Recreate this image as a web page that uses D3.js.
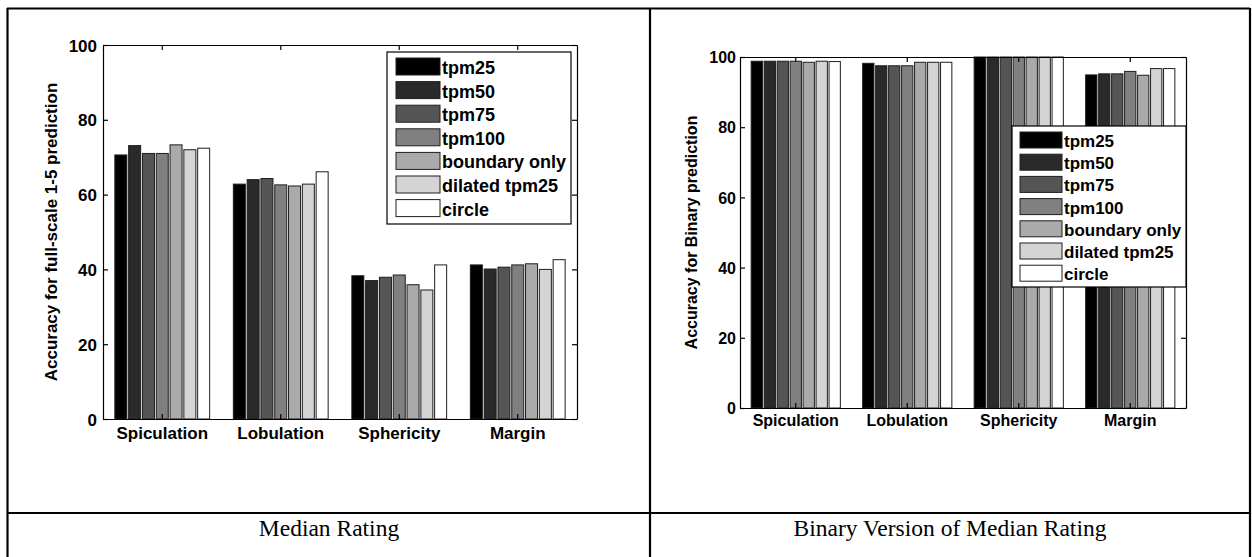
<!DOCTYPE html>
<html>
<head>
<meta charset="utf-8">
<script src="https://d3js.org/d3.v7.min.js"></script>
<style>
  body { margin: 0; background: #fff; }
  svg { display: block; }
</style>
</head>
<body>
<div id="chart"></div>
<script>
const categories = ["Spiculation", "Lobulation", "Sphericity", "Margin"];
const methods = ["tpm25", "tpm50", "tpm75", "tpm100", "boundary only", "dilated tpm25", "circle"];
const grays = ["#000000", "#2a2a2a", "#555555", "#808080", "#aaaaaa", "#d4d4d4", "#ffffff"];
const yTicks = [0, 20, 40, 60, 80, 100];

// accuracy per category, one value per method (same order as methods)
const medianValues = [
  [70.6, 73.1, 71.0, 71.0, 73.3, 72.0, 72.4],
  [62.8, 64.0, 64.3, 62.6, 62.3, 62.8, 66.1],
  [38.3, 37.0, 37.9, 38.5, 35.9, 34.5, 41.2],
  [41.2, 40.1, 40.6, 41.2, 41.5, 40.0, 42.6]
];
const binaryValues = [
  [98.8, 98.8, 98.8, 98.8, 98.5, 98.8, 98.7],
  [98.2, 97.5, 97.5, 97.5, 98.5, 98.5, 98.5],
  [100, 100, 100, 100, 100, 100, 100],
  [94.9, 95.2, 95.2, 95.9, 94.8, 96.7, 96.7]
];
const yTitles = ["Accuracy for full-scale 1-5 prediction", "Accuracy for Binary prediction"];
const captions = ["Median Rating", "Binary Version of Median Rating"];

const W = 1252, H = 557;
const svg = d3.select("#chart").append("svg")
  .attr("width", W)
  .attr("height", H);

const charts = [
  {values: medianValues, title: yTitles[0], caption: captions[0], capX: 329,
   x0: 103, x1: 577, y0: 45, y1: 419, font: 17, tickPad: 6, labelPad: 8, titleX: 57,
   legend: {x: 387, y: 52, w: 184, h: 172, sx: 9, sw: 44, sh: 17, step: 23.6, font: 18}},
  {values: binaryValues, title: yTitles[1], caption: captions[1], capX: 950,
   x0: 740, x1: 1186, y0: 57, y1: 408, font: 16, tickPad: 4, labelPad: 7, titleX: 697,
   legend: {x: 1012, y: 126, w: 174, h: 161, sx: 8, sw: 42, sh: 16, step: 22.2, font: 17}}
];

charts.forEach(c => {
  const g = svg.append("g");

  const x = d3.scaleBand().domain(categories).range([c.x0, c.x1]);
  const inner = d3.scaleBand().domain(methods)
    .range([0, x.bandwidth() * 0.8]).paddingInner(0.13);
  const y = d3.scaleLinear().domain([0, 100]).range([c.y1, c.y0]);

  // bars
  categories.forEach((cat, ci) => {
    g.append("g")
      .selectAll("rect")
      .data(c.values[ci])
      .enter().append("rect")
        .attr("x", (d, i) => x(cat) + x.bandwidth() * 0.1 + inner(methods[i]))
        .attr("y", d => y(d))
        .attr("width", inner.bandwidth())
        .attr("height", d => y(0) - y(d))
        .attr("fill", (d, i) => grays[i])
        .attr("stroke", "#1e1e1e")
        .attr("stroke-width", 1);
  });

  // axes (box with inward ticks, like the matlab figure)
  const left = g.append("g")
      .attr("transform", "translate(" + c.x0 + ",0)")
      .call(d3.axisLeft(y).tickValues(yTicks).tickSizeInner(-5).tickSizeOuter(0).tickPadding(c.tickPad));
  left.selectAll("text")
      .attr("dy", "0.36em");

  g.append("g")
      .attr("transform", "translate(" + c.x1 + ",0)")
      .call(d3.axisRight(y).tickValues(yTicks).tickSizeInner(-5).tickSizeOuter(0).tickFormat(""));

  g.append("g")
      .attr("transform", "translate(0," + c.y0 + ")")
      .call(d3.axisTop(x).tickSizeInner(-5).tickSizeOuter(0).tickFormat(""));

  g.append("g")
      .attr("transform", "translate(0," + c.y1 + ")")
      .call(d3.axisBottom(x).tickSizeInner(-5).tickSizeOuter(0).tickPadding(c.labelPad));

  g.selectAll(".domain, .tick line")
      .attr("stroke", "#000")
      .attr("stroke-width", 1.2);
  g.selectAll(".tick text")
      .attr("fill", "#000")
      .style("font-family", "'Liberation Sans', Arial, sans-serif")
      .style("font-weight", "bold")
      .style("font-size", c.font + "px");

  // y title
  g.append("text")
      .attr("transform", "translate(" + c.titleX + "," + ((c.y0 + c.y1) / 2) + ") rotate(-90)")
      .attr("text-anchor", "middle")
      .style("font-family", "'Liberation Sans', Arial, sans-serif")
      .style("font-weight", "bold")
      .style("font-size", c.font + "px")
      .text(c.title);

  // legend
  const L = c.legend;
  const lg = g.append("g").attr("transform", "translate(" + L.x + "," + L.y + ")");
  lg.append("rect")
      .attr("width", L.w)
      .attr("height", L.h)
      .attr("fill", "#fff")
      .attr("stroke", "#000")
      .attr("stroke-width", 1.2);
  const item = lg.selectAll(".item")
      .data(methods)
      .enter().append("g")
      .attr("class", "item")
      .attr("transform", (d, i) => "translate(" + L.sx + "," + (6 + i * L.step) + ")");
  item.append("rect")
      .attr("width", L.sw)
      .attr("height", L.sh)
      .attr("fill", (d, i) => grays[i])
      .attr("stroke", "#1e1e1e")
      .attr("stroke-width", 1);
  item.append("text")
      .attr("x", L.sw + 2)
      .attr("y", L.sh - 1)
      .style("font-family", "'Liberation Sans', Arial, sans-serif")
      .style("font-weight", "bold")
      .style("font-size", L.font + "px")
      .text(d => d);

  // caption row
  svg.append("text")
      .attr("x", c.capX)
      .attr("y", 536)
      .attr("text-anchor", "middle")
      .style("font-family", "'Liberation Serif', 'Times New Roman', serif")
      .style("font-size", "23.5px")
      .text(c.caption);
});

// table grid
const grid = svg.append("g")
  .attr("stroke", "#000")
  .attr("stroke-width", 2.2);
grid.append("line").attr("x1", 7).attr("x2", 1250).attr("y1", 8.5).attr("y2", 8.5);
grid.append("line").attr("x1", 7).attr("x2", 1250).attr("y1", 513).attr("y2", 513);
grid.append("line").attr("x1", 7.5).attr("x2", 7.5).attr("y1", 8).attr("y2", H);
grid.append("line").attr("x1", 650).attr("x2", 650).attr("y1", 8).attr("y2", H);
grid.append("line").attr("x1", 1250).attr("x2", 1250).attr("y1", 8).attr("y2", H);
</script>
</body>
</html>
